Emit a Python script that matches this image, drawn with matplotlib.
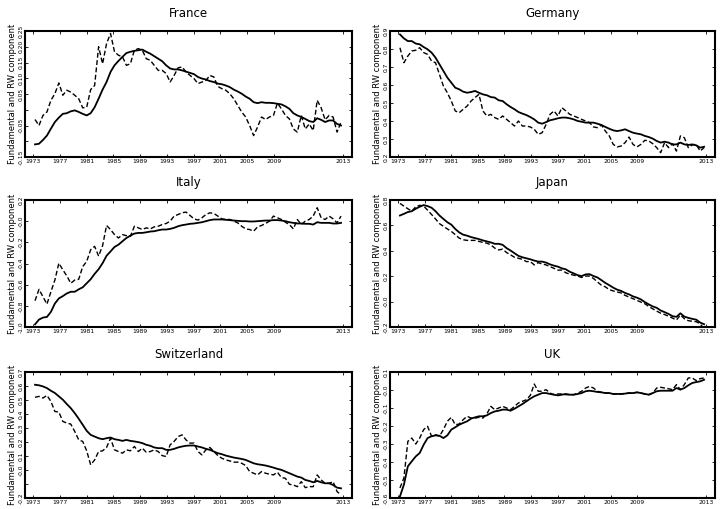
import numpy as np
import matplotlib
matplotlib.use("Agg")
import matplotlib.pyplot as plt

# Half-yearly observations, 1973H2 .. 2012H1
years = np.arange(1973.5, 2012.01, 0.5)

france_fund = [
    -0.110, -0.108, -0.096, -0.082, -0.060, -0.039, -0.025, -0.013, -0.011, -0.005,
    -0.002, -0.007, -0.013, -0.018, -0.011, 0.008, 0.035, 0.064, 0.088, 0.120,
    0.141, 0.155, 0.168, 0.180, 0.184, 0.187, 0.189, 0.191, 0.184, 0.178,
    0.170, 0.162, 0.154, 0.141, 0.131, 0.128, 0.128, 0.125, 0.121, 0.117,
    0.113, 0.104, 0.099, 0.096, 0.091, 0.088, 0.083, 0.081, 0.077, 0.072,
    0.064, 0.058, 0.051, 0.042, 0.035, 0.024, 0.021, 0.024, 0.022, 0.022,
    0.021, 0.019, 0.017, 0.011, 0.003, -0.011, -0.018, -0.023, -0.029, -0.036,
    -0.039, -0.027, -0.032, -0.039, -0.034, -0.034, -0.045, -0.050]
france_rw = [
    -0.031, -0.050, -0.018, -0.007, 0.030, 0.051, 0.085, 0.046, 0.062, 0.056,
    0.046, 0.035, 0.006, 0.008, 0.064, 0.077, 0.200, 0.146, 0.210, 0.242,
    0.184, 0.173, 0.168, 0.141, 0.146, 0.189, 0.194, 0.189, 0.162, 0.157,
    0.141, 0.125, 0.125, 0.115, 0.088, 0.109, 0.133, 0.136, 0.120, 0.109,
    0.099, 0.083, 0.088, 0.093, 0.109, 0.104, 0.074, 0.067, 0.062, 0.051,
    0.035, 0.014, -0.007, -0.023, -0.050, -0.082, -0.055, -0.023, -0.031, -0.023,
    -0.018, 0.021, 0.003, -0.018, -0.029, -0.061, -0.071, -0.018, -0.061, -0.045,
    -0.066, 0.030, 0.006, -0.032, -0.018, -0.023, -0.071, -0.039]

germany_fund = [
    0.881, 0.859, 0.844, 0.844, 0.830, 0.826, 0.811, 0.798, 0.780, 0.752,
    0.715, 0.678, 0.641, 0.613, 0.585, 0.576, 0.563, 0.557, 0.561, 0.567,
    0.557, 0.548, 0.543, 0.533, 0.530, 0.515, 0.511, 0.493, 0.478, 0.465,
    0.450, 0.441, 0.433, 0.422, 0.409, 0.391, 0.385, 0.394, 0.404, 0.409,
    0.415, 0.419, 0.419, 0.415, 0.409, 0.400, 0.396, 0.391, 0.391, 0.391,
    0.385, 0.378, 0.367, 0.357, 0.348, 0.344, 0.348, 0.354, 0.344, 0.335,
    0.330, 0.326, 0.317, 0.311, 0.302, 0.289, 0.280, 0.285, 0.280, 0.270,
    0.270, 0.280, 0.270, 0.267, 0.270, 0.265, 0.252, 0.257]
germany_rw = [
    0.807, 0.724, 0.761, 0.789, 0.793, 0.807, 0.780, 0.770, 0.733, 0.724,
    0.659, 0.594, 0.557, 0.511, 0.456, 0.446, 0.465, 0.483, 0.511, 0.530,
    0.548, 0.456, 0.428, 0.437, 0.419, 0.409, 0.428, 0.409, 0.391, 0.372,
    0.400, 0.372, 0.372, 0.367, 0.354, 0.326, 0.335, 0.381, 0.437, 0.456,
    0.428, 0.474, 0.456, 0.437, 0.428, 0.419, 0.409, 0.400, 0.391, 0.367,
    0.363, 0.378, 0.344, 0.317, 0.270, 0.256, 0.261, 0.280, 0.311, 0.270,
    0.256, 0.270, 0.293, 0.289, 0.274, 0.252, 0.224, 0.280, 0.252, 0.274,
    0.233, 0.317, 0.307, 0.252, 0.267, 0.270, 0.233, 0.252]

italy_fund = [
    -0.975, -0.930, -0.911, -0.905, -0.857, -0.778, -0.730, -0.708, -0.683, -0.667,
    -0.667, -0.644, -0.625, -0.587, -0.549, -0.498, -0.454, -0.397, -0.327, -0.286,
    -0.244, -0.222, -0.190, -0.159, -0.137, -0.117, -0.111, -0.111, -0.105, -0.098,
    -0.095, -0.086, -0.079, -0.079, -0.073, -0.063, -0.048, -0.038, -0.032, -0.025,
    -0.022, -0.016, -0.010, 0.000, 0.010, 0.016, 0.016, 0.016, 0.013, 0.010,
    0.006, 0.003, 0.000, 0.000, -0.003, -0.003, 0.000, 0.003, 0.006, 0.006,
    0.010, 0.010, 0.006, 0.000, -0.010, -0.016, -0.022, -0.022, -0.025, -0.025,
    -0.032, -0.010, -0.016, -0.016, -0.016, -0.022, -0.022, -0.016]
italy_rw = [
    -0.752, -0.644, -0.714, -0.784, -0.667, -0.556, -0.397, -0.460, -0.517, -0.587,
    -0.556, -0.549, -0.429, -0.381, -0.270, -0.238, -0.330, -0.232, -0.041, -0.079,
    -0.127, -0.159, -0.127, -0.137, -0.143, -0.048, -0.063, -0.079, -0.063, -0.073,
    -0.054, -0.048, -0.032, -0.022, 0.000, 0.048, 0.063, 0.079, 0.086, 0.054,
    0.022, 0.010, 0.032, 0.063, 0.079, 0.073, 0.048, 0.022, 0.016, 0.016,
    0.000, -0.016, -0.048, -0.073, -0.079, -0.095, -0.054, -0.041, -0.022, 0.000,
    0.048, 0.032, 0.016, -0.010, -0.032, -0.073, 0.016, -0.032, 0.000, 0.016,
    0.048, 0.127, 0.032, 0.016, 0.048, 0.022, -0.016, 0.048]

japan_fund = [
    0.678, 0.691, 0.705, 0.712, 0.731, 0.747, 0.760, 0.752, 0.739, 0.712,
    0.678, 0.651, 0.625, 0.606, 0.572, 0.545, 0.527, 0.519, 0.508, 0.500,
    0.492, 0.482, 0.474, 0.466, 0.455, 0.455, 0.447, 0.421, 0.402, 0.381,
    0.360, 0.349, 0.341, 0.333, 0.323, 0.315, 0.315, 0.307, 0.293, 0.283,
    0.275, 0.262, 0.254, 0.235, 0.222, 0.208, 0.201, 0.214, 0.216, 0.201,
    0.190, 0.169, 0.147, 0.129, 0.110, 0.094, 0.084, 0.068, 0.057, 0.041,
    0.031, 0.017, -0.004, -0.022, -0.038, -0.049, -0.070, -0.083, -0.097, -0.115,
    -0.120, -0.092, -0.118, -0.128, -0.136, -0.142, -0.165, -0.178]
japan_rw = [
    0.773, 0.752, 0.731, 0.712, 0.747, 0.758, 0.752, 0.720, 0.686, 0.651,
    0.614, 0.593, 0.572, 0.553, 0.527, 0.500, 0.487, 0.482, 0.482, 0.482,
    0.474, 0.466, 0.460, 0.447, 0.421, 0.407, 0.413, 0.386, 0.368, 0.349,
    0.341, 0.333, 0.315, 0.315, 0.289, 0.307, 0.296, 0.289, 0.275, 0.262,
    0.248, 0.248, 0.227, 0.216, 0.208, 0.201, 0.190, 0.201, 0.201, 0.182,
    0.155, 0.129, 0.116, 0.094, 0.084, 0.076, 0.068, 0.049, 0.036, 0.023,
    0.010, -0.004, -0.017, -0.038, -0.057, -0.075, -0.091, -0.102, -0.115, -0.130,
    -0.145, -0.105, -0.135, -0.150, -0.155, -0.158, -0.175, -0.215]

swiss_fund = [
    0.609, 0.605, 0.597, 0.585, 0.566, 0.550, 0.526, 0.502, 0.471, 0.442,
    0.406, 0.366, 0.323, 0.280, 0.251, 0.239, 0.227, 0.220, 0.227, 0.232,
    0.220, 0.215, 0.208, 0.215, 0.208, 0.204, 0.199, 0.192, 0.180, 0.173,
    0.161, 0.156, 0.156, 0.144, 0.144, 0.151, 0.161, 0.168, 0.173, 0.175,
    0.175, 0.168, 0.161, 0.151, 0.144, 0.132, 0.120, 0.113, 0.103, 0.096,
    0.089, 0.084, 0.079, 0.072, 0.060, 0.048, 0.041, 0.037, 0.032, 0.025,
    0.017, 0.008, 0.001, -0.011, -0.023, -0.035, -0.047, -0.054, -0.071, -0.078,
    -0.088, -0.078, -0.088, -0.095, -0.095, -0.107, -0.126, -0.131]
swiss_rw = [
    0.519, 0.526, 0.514, 0.533, 0.490, 0.418, 0.414, 0.347, 0.335, 0.328,
    0.275, 0.215, 0.204, 0.137, 0.037, 0.072, 0.132, 0.137, 0.161, 0.227,
    0.144, 0.132, 0.120, 0.144, 0.137, 0.168, 0.132, 0.156, 0.127, 0.132,
    0.144, 0.132, 0.103, 0.096, 0.180, 0.204, 0.239, 0.251, 0.215, 0.192,
    0.192, 0.132, 0.108, 0.144, 0.161, 0.132, 0.103, 0.084, 0.072, 0.065,
    0.056, 0.056, 0.048, 0.032, -0.011, -0.023, -0.035, -0.011, -0.023, -0.030,
    -0.035, -0.016, -0.054, -0.059, -0.102, -0.107, -0.119, -0.083, -0.126, -0.119,
    -0.119, -0.035, -0.071, -0.095, -0.095, -0.083, -0.154, -0.178]

uk_fund = [
    -0.591, -0.526, -0.424, -0.396, -0.369, -0.350, -0.304, -0.267, -0.257, -0.252,
    -0.254, -0.267, -0.252, -0.220, -0.207, -0.193, -0.183, -0.174, -0.159, -0.152,
    -0.146, -0.146, -0.141, -0.128, -0.119, -0.115, -0.109, -0.109, -0.115, -0.104,
    -0.091, -0.078, -0.063, -0.048, -0.035, -0.026, -0.017, -0.017, -0.022, -0.026,
    -0.030, -0.026, -0.022, -0.026, -0.026, -0.022, -0.017, -0.007, -0.004, -0.007,
    -0.011, -0.013, -0.017, -0.017, -0.022, -0.022, -0.022, -0.020, -0.017, -0.017,
    -0.013, -0.017, -0.022, -0.026, -0.017, -0.007, -0.004, -0.004, -0.004, -0.004,
    0.011, 0.002, 0.011, 0.026, 0.039, 0.044, 0.048, 0.057]
uk_rw = [
    -0.544, -0.489, -0.285, -0.267, -0.300, -0.267, -0.220, -0.202, -0.257, -0.248,
    -0.257, -0.220, -0.174, -0.152, -0.193, -0.189, -0.165, -0.146, -0.156, -0.156,
    -0.152, -0.156, -0.133, -0.091, -0.109, -0.100, -0.091, -0.100, -0.109, -0.091,
    -0.072, -0.063, -0.054, -0.030, 0.033, -0.007, -0.007, 0.002, -0.017, -0.026,
    -0.022, -0.022, -0.026, -0.026, -0.026, -0.017, -0.007, 0.011, 0.020, 0.011,
    -0.007, -0.013, -0.017, -0.017, -0.022, -0.022, -0.022, -0.020, -0.017, -0.017,
    -0.013, -0.017, -0.022, -0.026, -0.017, 0.011, 0.015, 0.011, 0.007, 0.002,
    0.030, 0.002, 0.030, 0.067, 0.067, 0.052, 0.063, 0.067]

titles = ["France", "Germany", "Italy", "Japan", "Switzerland", "UK"]
fund_series = [france_fund, germany_fund, italy_fund, japan_fund, swiss_fund, uk_fund]
rw_series = [france_rw, germany_rw, italy_rw, japan_rw, swiss_rw, uk_rw]

# y-axis ticks and their printed labels per panel
y_ticks = [
    [-0.15, -0.10, -0.05, 0.00, 0.05, 0.10, 0.15, 0.20, 0.25],
    [0.2, 0.3, 0.4, 0.5, 0.6, 0.7, 0.8, 0.9],
    [-1.0, -0.8, -0.6, -0.4, -0.2, 0.0, 0.2],
    [-0.2, 0.0, 0.2, 0.4, 0.6, 0.8],
    [-0.2, -0.1, 0.0, 0.1, 0.2, 0.3, 0.4, 0.5, 0.6, 0.7],
    [-0.6, -0.5, -0.4, -0.3, -0.2, -0.1, 0.0, 0.1],
]
y_labels = [
    ["-0.15", "", "-0.05", "", "0.05", "0.10", "0.15", "0.20", "0.25"],
    ["0.2", "0.3", "0.4", "0.5", "0.6", "0.7", "0.8", "0.9"],
    ["-1.0", "-0.8", "-0.6", "-0.4", "-0.2", "-0.0", "0.2"],
    ["-0.2", "-0.0", "0.2", "0.4", "0.6", "0.8"],
    ["-0.2", "", "-0.0", "0.1", "0.2", "0.3", "0.4", "0.5", "0.6", "0.7"],
    ["-0.6", "-0.5", "-0.4", "-0.3", "-0.2", "-0.1", "-0.0", "0.1"],
]
x_labels = ["1973", "1977", "1981", "1985", "1989", "1993",
            "1997", "2001", "2005", "2009", "2013"]

fig = plt.figure(figsize=(7.25, 5.09), dpi=100)
W, H = 725.0, 509.0
cols = [(25, 352), (390, 715)]
rows = [(31, 157), (200, 327), (372, 498)]

# x-axis: data runs over the inner span; tick labels follow a fixed spacing
x_lo, x_hi = 1972.24, 2013.38
tick_first, tick_step = 1973.29, 3.36
xtick_pos = [tick_first + tick_step * k for k in range(10)] + [2012.3]

for i, title in enumerate(titles):
    r, c = divmod(i, 2)
    x0, x1 = cols[c]
    y0, y1 = rows[r]
    ax = fig.add_axes([x0 / W, 1 - y1 / H, (x1 - x0) / W, (y1 - y0) / H])
    ax.plot(years, fund_series[i], color="black", lw=1.3, solid_joinstyle="round")
    ax.plot(years, rw_series[i], color="black", lw=1.0, linestyle=(0, (3.5, 1.8)))
    ax.set_xlim(x_lo, x_hi)
    ax.set_ylim(y_ticks[i][0], y_ticks[i][-1])
    ax.set_yticks(y_ticks[i])
    ax.set_yticklabels(y_labels[i], rotation=90, va="center", fontsize=4.3)
    ax.set_xticks(xtick_pos)
    ax.set_xticklabels(x_labels, fontsize=4.3)
    ax.tick_params(direction="in", top=True, right=True, length=2.5, width=0.6, pad=1.2)
    for sp in ax.spines.values():
        sp.set_linewidth(1.5)
    ax.set_title(title, fontsize=8.5, pad=10)
    ax.set_ylabel("Fundamental and RW component", fontsize=6, labelpad=1)

fig.savefig("out.png", dpi=100)
